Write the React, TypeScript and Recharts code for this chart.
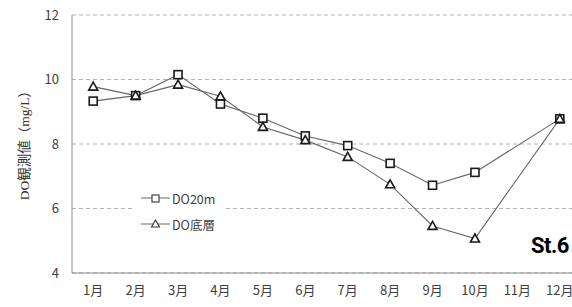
import { LineChart, Line, XAxis, YAxis, CartesianGrid, Legend } from "recharts";

const months = ["1月", "2月", "3月", "4月", "5月", "6月", "7月", "8月", "9月", "10月", "11月", "12月"];
const do20m = [9.33, 9.5, 10.15, 9.24, 8.8, 8.25, 7.95, 7.4, 6.72, 7.12, null, 8.78];
const doBottom = [9.78, 9.5, 9.84, 9.48, 8.53, 8.12, 7.6, 6.75, 5.46, 5.07, null, 8.78];
const yTicks = [4, 6, 8, 10, 12];

const seriesNames = { top: "DO20m", bottom: "DO底層" };

const data = months.map((label, i) => ({
  m: i + 1,
  label,
  top: do20m[i],
  bottom: doBottom[i],
}));

const bounds = months.map((_, i) => i + 0.5).concat([months.length + 0.5]);
const centers = months.map((_, i) => i + 1);

const LINE = "#666";
const MARK = "#1a1a1a";
const FONT = "'Noto Sans CJK JP', 'Noto Sans', sans-serif";

const square = (size: number) => (props: any) => {
  const { cx, cy, index } = props;
  if (cy == null || cx == null) return <g key={`s${index}`} />;
  const h = size / 2;
  return (
    <rect key={`s${index}`} x={cx - h} y={cy - h} width={size} height={size}
      fill="#fff" stroke={MARK} strokeWidth={1.6} />
  );
};

const triangle = (size: number) => (props: any) => {
  const { cx, cy, index } = props;
  if (cy == null || cx == null) return <g key={`t${index}`} />;
  const h = size / 2;
  const pts = `${cx},${cy - h} ${cx + h},${cy + h - 1} ${cx - h},${cy + h - 1}`;
  return <polygon key={`t${index}`} points={pts} fill="#fff" stroke={MARK} strokeWidth={1.6} />;
};

function LegendBox() {
  const rows = [
    { name: seriesNames.top, mark: "sq" },
    { name: seriesNames.bottom, mark: "tri" },
  ];
  return (
    <div style={{ background: "#fff", padding: "2px 0 2px 6px" }}>
      {rows.map((r) => (
        <div key={r.name} style={{ display: "flex", alignItems: "center", height: 26 }}>
          <svg width={30} height={12}>
            <line x1={0} x2={29} y1={6} y2={6} stroke={LINE} strokeWidth={1} />
            {r.mark === "sq" ? (
              <rect x={11} y={3} width={7} height={7} fill="#fff" stroke="#333" strokeWidth={1.1} />
            ) : (
              <polygon points="14.5,2 18.5,9 10.5,9" fill="#fff" stroke="#333" strokeWidth={1.1} />
            )}
          </svg>
          <span style={{ fontFamily: FONT, fontSize: 12.5, color: "#404040", marginLeft: 1 }}>{r.name}</span>
        </div>
      ))}
    </div>
  );
}

const yLabel = (props: any) => {
  const { viewBox } = props;
  const cy = viewBox.y + viewBox.height / 2 - 2;
  return (
    <text x={24} y={cy} transform={`rotate(-90 24 ${cy})`} textAnchor="middle" dominantBaseline="central"
      fontFamily="'Liberation Serif', 'Noto Sans CJK JP', serif" fontSize={13.5} fill="#333">
      DO観測値（mg/L）
    </text>
  );
};

export default function App() {
  return (
    <div style={{ position: "fixed", left: 0, top: 0, width: 572, height: 307, overflow: "hidden", background: "#fff" }}>
      <LineChart width={600} height={307} data={data} margin={{ top: 15, right: 19, bottom: 2, left: 0 }}>
        <CartesianGrid xAxisId="grid" vertical={false} stroke="#b3b3b3" strokeDasharray="4 3" />
        <XAxis xAxisId="grid" dataKey="m" type="number" domain={[0.5, 12.5]} ticks={bounds} interval={0}
          tick={false} tickSize={4} height={6} stroke="#8c8c8c" />
        <XAxis xAxisId="lab" dataKey="m" type="number" domain={[0.5, 12.5]} ticks={centers} interval={0}
          axisLine={false} tickLine={false} tickSize={0} tickMargin={7} height={26}
          tickFormatter={(v: number) => months[v - 1]}
          tick={{ fontSize: 13, fill: "#404040", fontFamily: FONT }} />
        <YAxis domain={[4, 12]} ticks={yTicks} width={72} stroke="#8c8c8c" tickLine={false} tickMargin={7}
          tick={{ fontSize: 13, fill: "#404040", fontFamily: FONT }} label={yLabel} />
        <Legend layout="vertical" align="center" verticalAlign="middle" content={() => <LegendBox />}
          wrapperStyle={{ left: 135, top: 183, width: 90 }} />
        <Line xAxisId="grid" dataKey="top" name={seriesNames.top} stroke={LINE} strokeWidth={1.1}
          connectNulls dot={square(8)} isAnimationActive={false} />
        <Line xAxisId="grid" dataKey="bottom" name={seriesNames.bottom} stroke={LINE} strokeWidth={1.1}
          connectNulls dot={triangle(9)} isAnimationActive={false} />
      </LineChart>
      <div style={{ position: "absolute", left: 531, top: 233, fontFamily: "Roboto, sans-serif", fontWeight: 700,
        fontSize: 22, color: "#000", lineHeight: "26px", letterSpacing: -0.5 }}>St.6</div>
    </div>
  );
}
